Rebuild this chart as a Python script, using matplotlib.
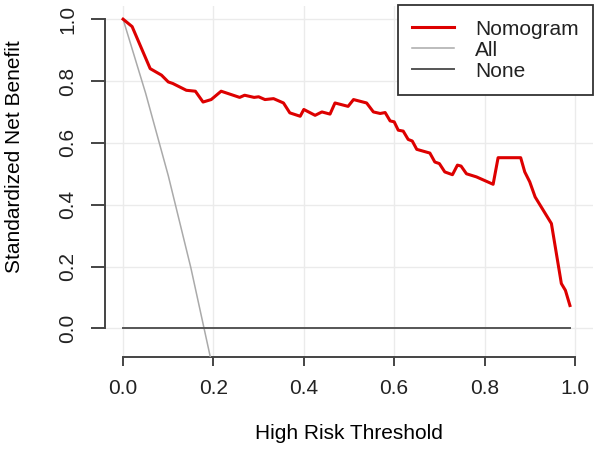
import matplotlib.pyplot as plt

# threshold probabilities and standardized net benefit
nomo_thr = [0.0, 0.02, 0.06, 0.085, 0.10, 0.11, 0.14, 0.16, 0.177, 0.195,
            0.217, 0.258, 0.269, 0.29, 0.30, 0.314, 0.333, 0.355, 0.369, 0.392,
            0.40, 0.425, 0.44, 0.458, 0.469, 0.498, 0.51, 0.539, 0.554, 0.569,
            0.58, 0.591, 0.60, 0.609, 0.62, 0.631, 0.64, 0.65, 0.679, 0.69,
            0.70, 0.712, 0.729, 0.74, 0.748, 0.76, 0.782, 0.819, 0.83, 0.88,
            0.889, 0.90, 0.912, 0.948, 0.97, 0.979, 0.989]
nomo_snb = [1.0, 0.976, 0.84, 0.819, 0.797, 0.792, 0.77, 0.767, 0.732, 0.74,
            0.767, 0.747, 0.754, 0.747, 0.749, 0.74, 0.743, 0.729, 0.697, 0.686,
            0.708, 0.689, 0.70, 0.693, 0.729, 0.718, 0.74, 0.729, 0.70, 0.695,
            0.698, 0.671, 0.668, 0.641, 0.638, 0.611, 0.606, 0.579, 0.567, 0.538,
            0.533, 0.506, 0.497, 0.528, 0.525, 0.50, 0.49, 0.466, 0.552, 0.552,
            0.506, 0.474, 0.425, 0.339, 0.145, 0.123, 0.074]

all_thr = [0.0, 0.05, 0.10, 0.15, 0.20]
all_snb = [1.0, 0.76, 0.494, 0.196, -0.139]

none_thr = [0.0, 0.99]
none_snb = [0.0, 0.0]

ticks = [0.0, 0.2, 0.4, 0.6, 0.8, 1.0]
tick_labels = ['0.0', '0.2', '0.4', '0.6', '0.8', '1.0']

plt.rcParams['font.family'] = ['Liberation Sans', 'DejaVu Sans']
plt.rcParams['text.color'] = '#222222'

fig = plt.figure(figsize=(5.98, 4.49), dpi=100)
ax = fig.add_axes([0.1756, 0.2049, 0.8160, 0.7817])

ax.plot(nomo_thr, nomo_snb, color='#dd0000', lw=2.2, label='Nomogram', zorder=4)
ax.plot(all_thr, all_snb, color='#aaaaaa', lw=1.1, label='All', zorder=3)
ax.plot(none_thr, none_snb, color='#555555', lw=1.4, label='None', zorder=3)

ax.set_xlim(-0.04, 1.04)
ax.set_ylim(-0.0925, 1.0425)

ax.set_xticks(ticks)
ax.set_xticklabels(tick_labels)
ax.set_yticks(ticks)
ax.set_yticklabels(tick_labels, rotation=90, va='center')

ax.grid(True, color='#ebebeb', lw=1)
ax.set_axisbelow(True)

for side in ['top', 'right']:
    ax.spines[side].set_visible(False)
ax.spines['left'].set_bounds(0, 1)
ax.spines['bottom'].set_bounds(0, 1)
for side in ['left', 'bottom']:
    ax.spines[side].set_color('#444444')
    ax.spines[side].set_linewidth(1.4)

ax.tick_params(axis='x', length=6.5, width=1.4, color='#444444',
               labelsize=15, labelcolor='#222222', pad=9)
ax.tick_params(axis='y', length=10, width=1.4, color='#444444',
               labelsize=15, labelcolor='#222222', pad=10)

ax.set_xlabel('High Risk Threshold', fontsize=15)
ax.set_ylabel('Standardized Net Benefit', fontsize=15)
ax.xaxis.set_label_coords(0.5, -0.19)
ax.yaxis.set_label_coords(-0.165, 0.57)

leg = ax.legend(loc='upper right', bbox_to_anchor=(1.0, 1.003), borderaxespad=0,
                fancybox=False, framealpha=1, edgecolor='#333333',
                fontsize=15, handlelength=2.0, handletextpad=1.0,
                labelspacing=0.1, borderpad=0.7)
leg.get_frame().set_linewidth(1.3)

plt.savefig('out.png', dpi=100)
